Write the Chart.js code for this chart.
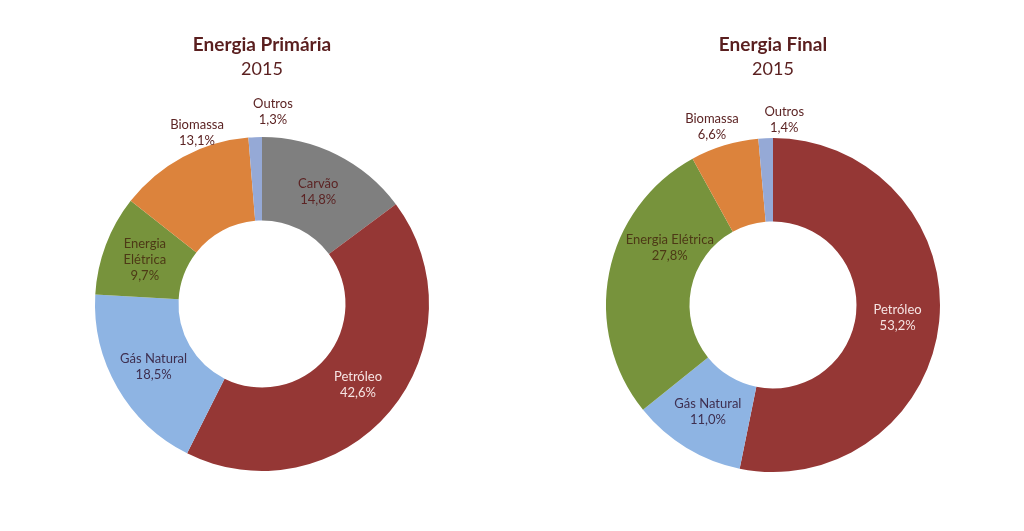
<!DOCTYPE html>
<html>
<head>
<meta charset="utf-8">
<script src="https://cdn.jsdelivr.net/npm/chart.js@4"></script>
<style>
  body { margin: 0; background: #fff; width: 1024px; height: 531px; overflow: hidden; font-family: Lato, 'Open Sans', sans-serif; }
  .painel { position: absolute; top: 0; width: 512px; height: 531px; }
  .painel canvas { position: absolute; left: 0; top: 0; }
  .titulo { position: absolute; top: 31px; width: 100%; text-align: center; color: #5a1f1f; font-size: 18px; line-height: 25px; }
  .titulo b { display: block; font-size: 19px; }
</style>
</head>
<body>
<div class="painel" style="left:0">
  <canvas id="graficoPrimaria" width="512" height="531"></canvas>
  <div class="titulo" style="left:6px"><b>Energia Primária</b>2015</div>
</div>
<div class="painel" style="left:512px">
  <canvas id="graficoFinal" width="512" height="531"></canvas>
  <div class="titulo" style="left:5px"><b>Energia Final</b>2015</div>
</div>
<script>
// dados (%), no sentido horário a partir do topo
const fontesPrimaria = ['Carvão', 'Petróleo', 'Gás Natural', 'Energia Elétrica', 'Biomassa', 'Outros'];
const valoresPrimaria = [14.8, 42.6, 18.5, 9.7, 13.1, 1.3];

const fontesFinal = ['Petróleo', 'Gás Natural', 'Energia Elétrica', 'Biomassa', 'Outros'];
const valoresFinal = [53.2, 11.0, 27.8, 6.6, 1.4];

const cores = {
  'Carvão': '#7f7f7f',
  'Petróleo': '#953735',
  'Gás Natural': '#8eb4e3',
  'Energia Elétrica': '#77933c',
  'Biomassa': '#dc833c',
  'Outros': '#95a9d6'
};
const coresTexto = {
  'Carvão': '#5c2424',
  'Petróleo': '#f6e4e3',
  'Gás Natural': '#3e2f50',
  'Energia Elétrica': '#4d3916',
  'Biomassa': '#5c2424',
  'Outros': '#5c2424'
};

// como o rótulo de cada fatia é posto: dr = px além do meio do anel, da = graus além do meio da fatia
const rotPrimaria = {
  'Energia Elétrica': { quebra: true },
  'Biomassa': { dr: 58, da: 7.5 },
  'Outros': { dr: 67, da: 5.6 }
};
const rotFinal = {
  'Energia Elétrica': { dr: -7, da: 18 },
  'Biomassa': { dr: 63, da: -2 },
  'Outros': { dr: 60, da: 6 }
};

const pluginRotulos = {
  id: 'rotulos',
  afterDatasetsDraw(chart, args, opts) {
    const ctx = chart.ctx;
    const meta = chart.getDatasetMeta(0);
    const labels = chart.data.labels;
    const valores = chart.data.datasets[0].data;
    ctx.save();
    ctx.font = '13px Lato, "Open Sans", sans-serif';
    ctx.textAlign = 'center';
    ctx.textBaseline = 'middle';
    meta.data.forEach((arc, i) => {
      const nome = labels[i];
      const p = opts.posicoes[nome] || {};
      const meio = (arc.startAngle + arc.endAngle) / 2 + (p.da || 0) * Math.PI / 180;
      const r = (arc.innerRadius + arc.outerRadius) / 2 + (p.dr || 0);
      const x = arc.x + Math.cos(meio) * r;
      const y = arc.y + Math.sin(meio) * r;
      const linhas = p.quebra ? nome.split(' ') : [nome];
      linhas.push(valores[i].toFixed(1).replace('.', ',') + '%');
      ctx.fillStyle = coresTexto[nome];
      const h = 16;
      linhas.forEach((t, k) => {
        ctx.fillText(t, x, y + (k - (linhas.length - 1) / 2) * h);
      });
    });
    ctx.restore();
  }
};

function criarRosca(id, fontes, valores, posicoes, padding) {
  return new Chart(document.getElementById(id), {
    type: 'doughnut',
    data: {
      labels: fontes,
      datasets: [{
        data: valores,
        backgroundColor: fontes.map(f => cores[f]),
        borderWidth: 0
      }]
    },
    options: {
      responsive: false,
      animation: false,
      cutout: '50%',
      layout: { padding: padding },
      plugins: {
        legend: { display: false },
        tooltip: { enabled: false },
        rotulos: { posicoes: posicoes }
      }
    },
    plugins: [pluginRotulos]
  });
}

criarRosca('graficoPrimaria', fontesPrimaria, valoresPrimaria, rotPrimaria,
  { left: 95, right: 83, top: 137, bottom: 60 });
criarRosca('graficoFinal', fontesFinal, valoresFinal, rotFinal,
  { left: 94, right: 84, top: 138, bottom: 59 });
</script>
</body>
</html>
